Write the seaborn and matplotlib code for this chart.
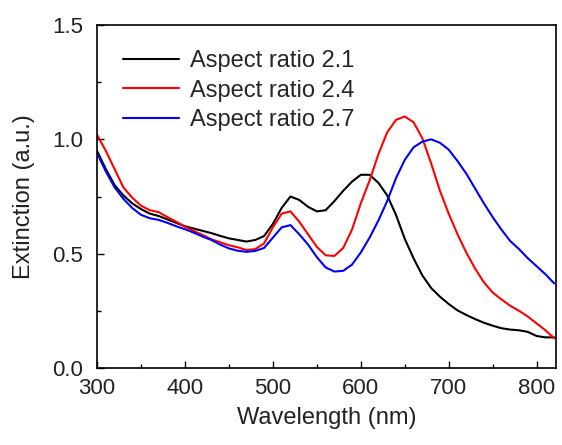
import numpy as np
import pandas as pd
import matplotlib
matplotlib.use("Agg")
import matplotlib.pyplot as plt
import seaborn as sns
from matplotlib.ticker import MultipleLocator

# -------------------------------
# Data
# -------------------------------

wavelength = [300, 310, 320, 330, 340, 350, 360, 370, 380, 390,
              400, 410, 420, 430, 440, 450, 460, 470, 480, 490,
              500, 510, 520, 530, 540, 550, 560, 570, 580, 590,
              600, 610, 620, 630, 640, 650, 660, 670, 680, 690,
              700, 710, 720, 730, 740, 750, 760, 770, 780, 790,
              800, 810, 820]

ar_21 = [0.95, 0.87, 0.80, 0.755, 0.72, 0.695, 0.675, 0.665, 0.65, 0.635,
         0.62, 0.61, 0.60, 0.59, 0.578, 0.567, 0.56, 0.553, 0.56, 0.577,
         0.63, 0.70, 0.75, 0.735, 0.705, 0.685, 0.69, 0.73, 0.775, 0.815,
         0.845, 0.845, 0.81, 0.755, 0.67, 0.565, 0.48, 0.405, 0.35, 0.312,
         0.28, 0.252, 0.232, 0.214, 0.198, 0.185, 0.174, 0.168, 0.165, 0.158,
         0.14, 0.134, 0.134]

ar_24 = [1.02, 0.95, 0.87, 0.79, 0.745, 0.71, 0.69, 0.682, 0.66, 0.64,
         0.618, 0.60, 0.582, 0.563, 0.55, 0.537, 0.528, 0.516, 0.52, 0.545,
         0.615, 0.675, 0.685, 0.64, 0.585, 0.53, 0.493, 0.49, 0.525, 0.605,
         0.72, 0.82, 0.935, 1.03, 1.085, 1.10, 1.075, 1.005, 0.895, 0.775,
         0.675, 0.585, 0.505, 0.435, 0.375, 0.33, 0.30, 0.272, 0.25, 0.225,
         0.195, 0.165, 0.13]

ar_27 = [0.94, 0.86, 0.79, 0.74, 0.70, 0.67, 0.655, 0.648, 0.635, 0.62,
         0.607, 0.592, 0.575, 0.56, 0.54, 0.523, 0.513, 0.508, 0.512, 0.525,
         0.57, 0.615, 0.625, 0.585, 0.54, 0.485, 0.44, 0.422, 0.425, 0.452,
         0.505, 0.57, 0.645, 0.73, 0.83, 0.91, 0.965, 0.99, 1.0, 0.985,
         0.955, 0.905, 0.85, 0.785, 0.72, 0.66, 0.605, 0.555, 0.52, 0.48,
         0.445, 0.41, 0.37]

labels = ["Aspect ratio 2.1", "Aspect ratio 2.4", "Aspect ratio 2.7"]
colors = ["#000000", "#ff0000", "#0000ff"]

df = pd.DataFrame({
    "wavelength": wavelength * 3,
    "extinction": ar_21 + ar_24 + ar_27,
    "sample": [labels[0]] * len(wavelength) + [labels[1]] * len(wavelength)
              + [labels[2]] * len(wavelength),
})

# -------------------------------
# Plot
# -------------------------------

sns.set_style("ticks")
plt.rcParams["font.family"] = ["Liberation Sans", "DejaVu Sans"]

fig = plt.figure(figsize=(5.62, 4.45), dpi=100)
ax = fig.add_axes([0.1726, 0.173, 0.8167, 0.7708])

sns.lineplot(data=df, x="wavelength", y="extinction", hue="sample",
             palette=dict(zip(labels, colors)), linewidth=1.5, ax=ax)

ax.set_xlim(300, 822)
ax.set_ylim(0, 1.5)
ax.xaxis.set_major_locator(MultipleLocator(100))
ax.xaxis.set_minor_locator(MultipleLocator(50))
ax.yaxis.set_major_locator(MultipleLocator(0.5))
ax.yaxis.set_minor_locator(MultipleLocator(0.25))
ax.yaxis.set_major_formatter(matplotlib.ticker.FormatStrFormatter("%.1f"))

ax.tick_params(which="both", direction="in", top=False, right=False,
               width=1.0, colors="black", labelsize=16, labelcolor="#222222")
ax.tick_params(which="major", length=5)
ax.tick_params(which="minor", length=3)
ax.tick_params(axis="y", pad=10)
ax.tick_params(axis="x", pad=7)

for s in ax.spines.values():
    s.set_visible(True)
    s.set_linewidth(1.2)
    s.set_color("black")

ax.set_xlabel("Wavelength (nm)", fontsize=17, color="#222222", labelpad=6)
ax.set_ylabel("Extinction (a.u.)", fontsize=17, color="#222222", labelpad=12)

ax.legend(loc="upper left", frameon=False, fontsize=17,
          handlelength=2.4, handletextpad=0.45, labelspacing=0.33,
          bbox_to_anchor=(0.035, 0.955), borderaxespad=0.0)

plt.savefig("out.png", dpi=100)
plt.close()
